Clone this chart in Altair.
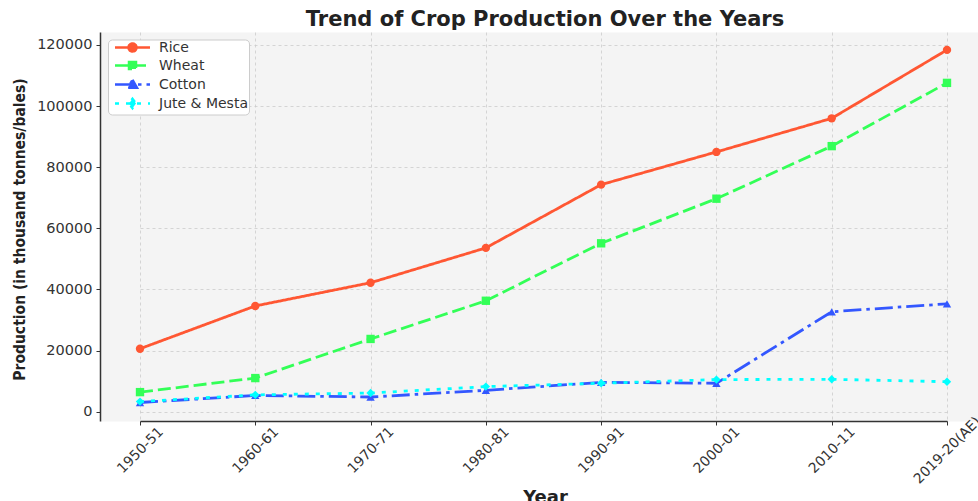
import altair as alt
import pandas as pd

years = ["1950-51", "1960-61", "1970-71", "1980-81", "1990-91", "2000-01", "2010-11", "2019-20(AE)"]
crops = ["Rice", "Wheat", "Cotton", "Jute & Mesta"]
rice = [20600, 34600, 42200, 53600, 74300, 85000, 96000, 118400]
wheat = [6400, 11000, 23800, 36300, 55100, 69700, 86900, 107600]
cotton = [3000, 5300, 4800, 7000, 9600, 9300, 32700, 35300]
jute = [3300, 5500, 6100, 8200, 9300, 10500, 10600, 9800]
y_ticks = [0, 20000, 40000, 60000, 80000, 100000, 120000]

colors = ["#FF5733", "#33FF57", "#3357FF", "#00FFFF"]
dashes = [[1, 0], [13, 5], [18, 5, 3.5, 5], [4, 7]]
shapes = ["circle", "square", "triangle-up", "diamond"]
legend_paths = [
    "M-0.2,0H6.8M2.5,0A0.8,0.8,0,1,0,4.1,0A0.8,0.8,0,1,0,2.5,0Z",
    "M-0.2,0H6.8M2.6,-0.7H4V0.7H2.6Z",
    "M-0.2,0H6.8M3.3,-0.95L4.2,0.65H2.4Z",
    "M-0.2,0H6.8M3.3,-0.95L4,0L3.3,0.95L2.6,0Z",
]

series = {"Rice": rice, "Wheat": wheat, "Cotton": cotton, "Jute & Mesta": jute}
rows = []
for crop in crops:
    for yr, v in zip(years, series[crop]):
        rows.append({"Year": yr, "Crop": crop, "Marker": crop, "Production": v})
df = pd.DataFrame(rows)


def pick(values):
    expr = values[-1]
    for c, v in reversed(list(zip(crops[:-1], values[:-1]))):
        expr = f"datum.value === '{c}' ? {v} : ({expr})"
    return expr


shape_expr = pick([f"'{p}'" for p in legend_paths])
dash_expr = pick([str(d) for d in dashes])
color_expr = pick([f"'{c}'" for c in colors])

x = alt.X(
    "Year:N",
    sort=years,
    scale=alt.Scale(type="point", range=[40, 847], padding=0),
    axis=alt.Axis(
        title="Year",
        titleFontSize=18,
        titleFontWeight="bold",
        titleX=445,
        titleY=67,
        titleBaseline="top",
        labelAngle=315,
        labelAlign="center",
        labelBaseline="middle",
        labelPadding=25,
        labelFontSize=14,
    ),
)
y = alt.Y(
    "Production:Q",
    scale=alt.Scale(domain=[-3050, 124250], nice=False, zero=False),
    axis=alt.Axis(
        title="Production (in thousand tonnes/bales)",
        values=y_ticks,
        format="d",
        titleFont="DejaVu Sans Condensed, DejaVu Sans",
        titleFontSize=15.5,
        titleFontWeight="bold",
        titleAngle=270,
        titleAlign="center",
        titleBaseline="middle",
        titleX=-81,
        titleY=197,
        labelFontSize=14.5,
        labelPadding=4,
    ),
)
color_scale = alt.Scale(domain=crops, range=colors)

lines = alt.Chart(df).mark_line(strokeWidth=2.8, strokeCap="butt").encode(
    x=x,
    y=y,
    color=alt.Color("Crop:N", scale=color_scale, sort=crops, legend=None),
    strokeDash=alt.StrokeDash("Marker:N", scale=alt.Scale(range=dashes), sort=crops, legend=None),
)

points = alt.Chart(df).mark_point(filled=True, size=70, opacity=1).encode(
    x=x,
    y=y,
    color=alt.Color(
        "Crop:N",
        scale=color_scale,
        sort=crops,
        legend=alt.Legend(
            title=None,
            orient="none",
            legendX=8,
            legendY=7.5,
            fillColor="white",
            strokeColor="#cccccc",
            cornerRadius=4,
            padding=1,
            symbolSize=100,
            symbolStrokeWidth=2.5,
            symbolType=alt.ExprRef(shape_expr),
            symbolDash=alt.ExprRef(dash_expr),
            symbolStrokeColor=alt.ExprRef(color_expr),
            symbolFillColor=alt.ExprRef(color_expr),
            symbolOpacity=1,
            labelOffset=36,
            labelFontSize=14,
            labelFont="DejaVu Sans",
            labelColor="#333333",
            labelExpr="datum.label + '\u00a0\u00a0\u00a0\u00a0'",
            rowPadding=0,
        ),
    ),
    shape=alt.Shape("Marker:N", scale=alt.Scale(range=shapes), sort=crops, legend=None),
)

chart = (
    alt.layer(lines, points)
    .resolve_legend(color="independent", shape="independent", strokeDash="independent")
    .properties(
        width=878,
        height=389,
        autosize=alt.AutoSizeParams(type="none"),
        padding={"left": 100, "top": 32, "right": 0, "bottom": 80},
        background="white",
        title=alt.Title(
            "Trend of Crop Production Over the Years",
            fontSize=21,
            font="DejaVu Sans",
            fontWeight="bold",
            color="#222222",
            anchor="middle",
            baseline="alphabetic",
            offset=5,
            dx=6,
            dy=20,
        ),
    )
    .configure_view(fill="#f4f4f4", stroke="transparent")
    .configure_axis(
        labelFont="DejaVu Sans",
        titleFont="DejaVu Sans",
        labelColor="#333333",
        titleColor="#222222",
        domainColor="#333333",
        domainWidth=1.5,
        tickColor="#333333",
        tickSize=4,
        grid=True,
        gridColor="#cccccc",
        gridDash=[3, 3],
        gridWidth=0.8,
    )
)

chart.save("out.html", embed_options={"renderer": "svg", "actions": False})
